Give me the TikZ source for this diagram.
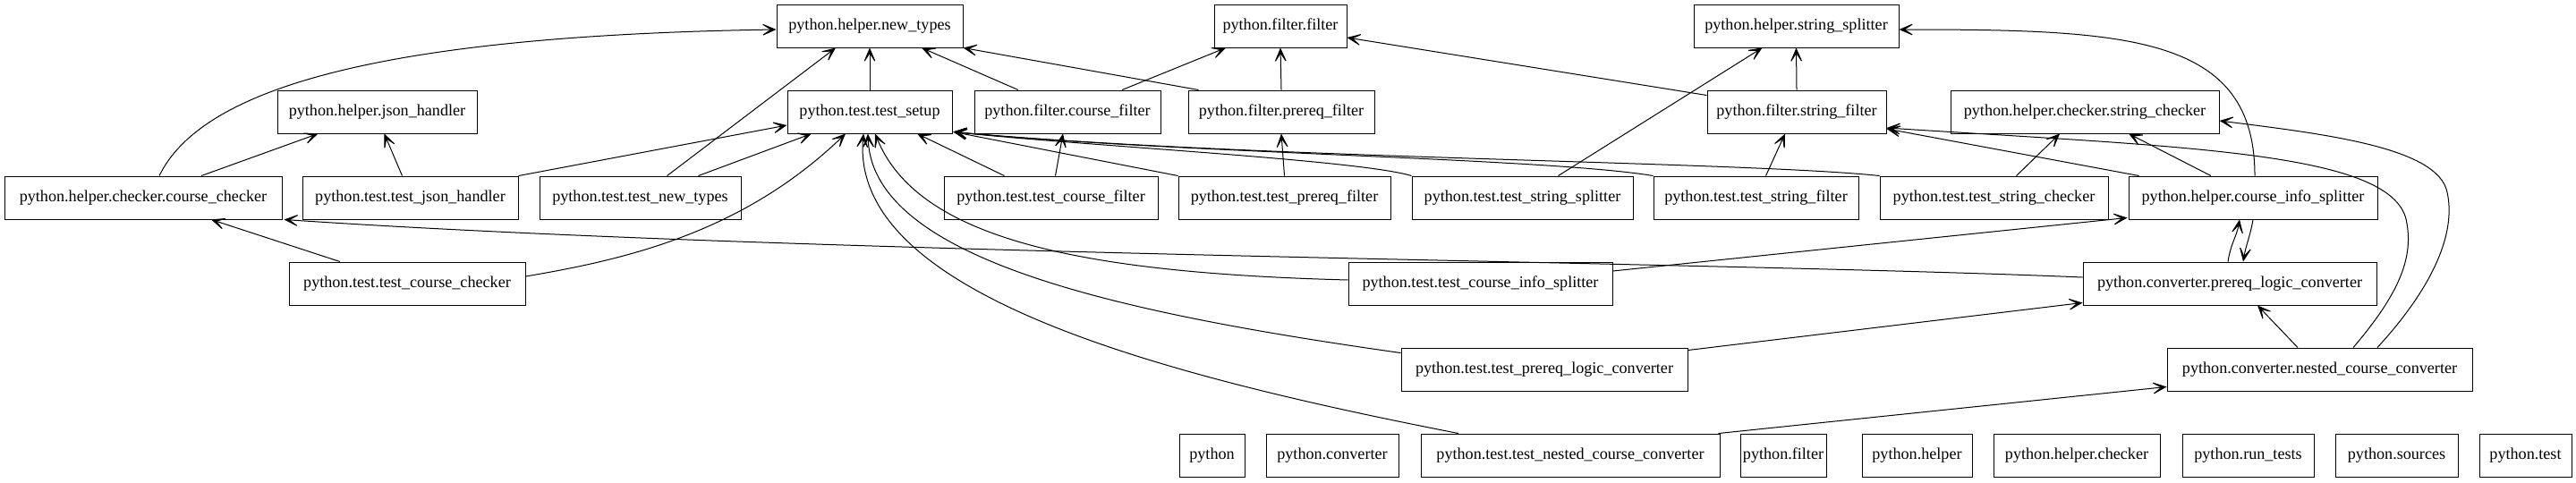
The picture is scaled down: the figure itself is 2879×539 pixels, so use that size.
\documentclass[tikz,border=0pt]{standalone}
\usepackage{fontspec}
\setmainfont{Liberation Serif}
\usetikzlibrary{arrows.meta,calc}
\begin{document}
\begin{tikzpicture}[x=0.75pt,y=-0.75pt,
  box/.style={draw, line width=0.7pt, minimum height=36pt, inner sep=0pt, font=\fontsize{13.6}{16}\selectfont},
  dep/.style={-{Stealth[length=15pt,width=13pt,inset=10pt]}, line width=0.75pt}]
\useasboundingbox (0,0) rectangle (2879,539);
% row 1
\node[box,minimum width=156pt] (newtypes) at (972,29) {python.helper.new\_types};
\node[box,minimum width=111pt] (filt) at (1431,29) {python.filter.filter};
\node[box,minimum width=171.75pt] (ssplit) at (2007.5,29) {python.helper.string\_splitter};
% row 2
\node[box,minimum width=167.25pt] (json) at (421.5,125) {python.helper.json\_handler};
\node[box,minimum width=138pt] (setup) at (972,125) {python.test.test\_setup};
\node[box,minimum width=156pt] (cfilter) at (1193,125) {python.filter.course\_filter};
\node[box,minimum width=156pt] (pfilter) at (1432,125) {python.filter.prereq\_filter};
\node[box,minimum width=150pt] (sfilter) at (2008,125) {python.filter.string\_filter};
\node[box,minimum width=225pt] (schecker) at (2330,125) {python.helper.checker.string\_checker};
% row 3
\node[box,minimum width=232.5pt] (cchecker) at (160,221) {python.helper.checker.course\_checker};
\node[box,minimum width=180.75pt] (tjson) at (458.5,221) {python.test.test\_json\_handler};
\node[box,minimum width=168.75pt] (tnew) at (715.5,221) {python.test.test\_new\_types};
\node[box,minimum width=179.25pt] (tcfilter) at (1174.5,221) {python.test.test\_course\_filter};
\node[box,minimum width=177.75pt] (tpfilter) at (1435.5,221) {python.test.test\_prereq\_filter};
\node[box,minimum width=185.25pt] (tssplit) at (1701.5,221) {python.test.test\_string\_splitter};
\node[box,minimum width=171.75pt] (tsfilter) at (1962.5,221) {python.test.test\_string\_filter};
\node[box,minimum width=191.25pt] (tschecker) at (2228.5,221) {python.test.test\_string\_checker};
\node[box,minimum width=208.5pt] (cis) at (2518,221) {python.helper.course\_info\_splitter};
% row 4
\node[box,minimum width=198pt] (tcchecker) at (455,317) {python.test.test\_course\_checker};
\node[box,minimum width=221.25pt] (tcis) at (1654.5,317) {python.test.test\_course\_info\_splitter};
\node[box,minimum width=246pt] (plc) at (2492,317) {python.converter.prereq\_logic\_converter};
% row 5
\node[box,minimum width=240pt] (tplc) at (1726,413) {python.test.test\_prereq\_logic\_converter};
\node[box,minimum width=255.75pt] (ncc) at (2592.5,413) {python.converter.nested\_course\_converter};
% row 6
\node[box,minimum width=54.75pt] (py) at (1354.5,509) {python};
\node[box,minimum width=111pt] (pyconv) at (1489,509) {python.converter};
\node[box,minimum width=250.5pt] (tncc) at (1755,509) {python.test.test\_nested\_course\_converter};
\node[box,minimum width=72pt] (pyfilter) at (1993,509) {python.filter};
\node[box,minimum width=92.25pt] (pyhelper) at (2142.5,509) {python.helper};
\node[box,minimum width=139.5pt] (pyhchecker) at (2321,509) {python.helper.checker};
\node[box,minimum width=110.25pt] (pyrun) at (2512.5,509) {python.run\_tests};
\node[box,minimum width=102.75pt] (pysrc) at (2678.5,509) {python.sources};
\node[box,minimum width=77.25pt] (pytest) at (2822.5,509) {python.test};
% edges
\draw[dep] ($(cchecker.north)+(18,0)$) .. controls (225,100) and (420,40) .. ($(newtypes.west)+(0,4)$);
\draw[dep] ($(cchecker.north)+(65,0)$) -- ($(json.south)+(-66,0)$);
\draw[dep] ($(tjson.north)+(-9,0)$) -- ($(json.south)+(8,0)$);
\draw[dep] (tjson.north east) -- ($(setup.west)+(0,15)$);
\draw[dep] ($(tnew.north)+(30,0)$) -- ($(newtypes.south)+(-38,0)$);
\draw[dep] ($(tnew.north)+(65,0)$) -- ($(setup.south)+(-65,0)$);
\draw[dep] ($(tcchecker.east)+(0,-8)$) .. controls (700,290) and (830,260) .. ($(setup.south)+(-27,0)$);
\draw[dep] ($(tcchecker.north)+(-75,0)$) -- ($(cchecker.south)+(76,0)$);
\draw[dep] ($(plc.west)+(0,-7)$) .. controls (1900,292) and (900,285) .. ($(cchecker.south east)+(2,0)$);
\draw[dep] (setup.north) -- (newtypes.south);
\draw[dep] ($(cfilter.north)+(-55,0)$) -- ($(newtypes.south)+(58,0)$);
\draw[dep] ($(pfilter.north west)+(12,0)$) -- (newtypes.south east);
\draw[dep] ($(cfilter.north)+(61,0)$) -- ($(filt.south)+(-61,0)$);
\draw[dep] (pfilter.north) -- (filt.south);
\draw[dep] ($(sfilter.north west)+(0,6)$) -- ($(filt.east)+(0,13)$);
\draw[dep] ($(tssplit.north)+(40,0)$) -- ($(ssplit.south)+(-38,0)$);
\draw[dep] (sfilter.north) -- (ssplit.south);
\draw[dep] ($(tcfilter.north)+(-52,0)$) -- ($(setup.south)+(53,0)$);
\draw[dep] ($(tcfilter.north)+(5,0)$) -- ($(cfilter.south)+(-5,0)$);
\draw[dep] (tpfilter.north) -- (pfilter.south);
\draw[dep] (tpfilter.north west) -- ($(setup.south east)+(1,-2)$);
\draw[dep] (tssplit.north west) .. controls +(-60,-18) and +(150,16) .. ($(setup.south east)+(1,-2)$);
\draw[dep] (tsfilter.north west) .. controls +(-120,-20) and +(250,24) .. ($(setup.south east)+(1,-2)$);
\draw[dep] (tschecker.north west) .. controls +(-150,-16) and +(330,30) .. ($(setup.south east)+(1,-2)$);
\draw[dep] ($(tsfilter.north)+(11,0)$) -- ($(sfilter.south)+(-13,0)$);
\draw[dep] ($(tschecker.north)+(25,0)$) -- ($(schecker.south)+(-28,0)$);
\draw[dep] ($(cis.north)+(-47,0)$) -- ($(schecker.south)+(49,0)$);
\draw[dep] ($(cis.north west)+(12,0)$) -- ($(sfilter.east)+(0,19)$);
\draw[dep] ($(cis.north)+(2,0)$) .. controls (2520,40) and (2380,33) .. ($(ssplit.east)+(0,4)$);
\draw[dep] ($(ncc.north)+(37.5,0)$) .. controls (2680,330) and (2697,290) .. (2690,250) .. controls (2680,170) and (2450,165) .. ($(sfilter.east)+(0,18)$);
\draw[dep] ($(ncc.north)+(64.5,0)$) .. controls (2720,320) and (2745,260) .. (2735,215) .. controls (2725,165) and (2600,150) .. ($(schecker.east)+(0,10)$);
\draw[dep] ($(tcis.east)+(0,-14)$) -- ($(cis.south west)+(-1,-2)$);
\draw[dep] ($(tcis.west)+(0,-4)$) .. controls (1200,305) and (1025,265) .. ($(setup.south)+(6,0)$);
\draw[dep] (cis.south) .. controls +(-3,18) and +(3,-18) .. ($(plc.north)+(15,0)$);
\draw[dep] ($(plc.north)+(-2,0)$) .. controls +(3,-20) and +(-3,18) .. ($(cis.south)+(-15,0)$);
\draw[dep] ($(ncc.north)+(-24.5,0)$) -- ($(plc.south)+(31,0)$);
\draw[dep] ($(tplc.north east)+(0,3)$) -- ($(plc.south west)+(0,-3)$);
\draw[dep] ($(tplc.north west)+(0,6)$) .. controls (1250,350) and (975,290) .. ($(setup.south)+(-2,0)$);
\draw[dep] ($(tncc.north east)+(-2,0)$) -- ($(ncc.south west)+(0,-5)$);
\draw[dep] ($(tncc.north)+(-125,0)$) .. controls (1300,420) and (950,330) .. ($(setup.south)+(-7,0)$);
\end{tikzpicture}
\end{document}
